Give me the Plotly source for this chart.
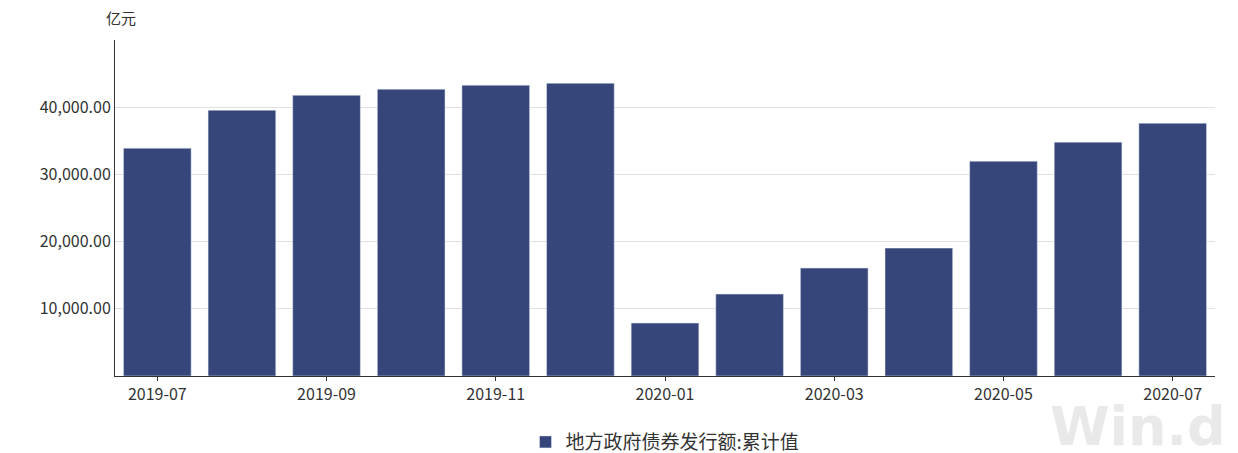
import plotly.graph_objects as go

months = ["2019-07","2019-08","2019-09","2019-10","2019-11","2019-12","2020-01","2020-02","2020-03","2020-04","2020-05","2020-06","2020-07"]
values = [33900,39550,41780,42680,43270,43570,7880,12190,16060,19030,31970,34800,37620]
tick_labels = ["2019-07","2019-09","2019-11","2020-01","2020-03","2020-05","2020-07"]
y_ticks = [10000,20000,30000,40000]

fig = go.Figure(go.Bar(x=months, y=values, name="地方政府债券发行额:累计值",
                       marker_color="#36467a", width=0.8, showlegend=True))
fig.update_layout(
    width=1238, height=453, paper_bgcolor="white", plot_bgcolor="white",
    margin=dict(l=107, r=31, t=32, b=85, autoexpand=False),
    font=dict(family="Noto Sans CJK SC", size=16, color="#333"),
    xaxis=dict(type="category", tickvals=tick_labels, ticktext=tick_labels, automargin=False,
               showline=True, linecolor="#333", ticks="outside", ticklen=4, tickcolor="#333"),
    yaxis=dict(range=[0,50000], tickvals=y_ticks, ticktext=[f"{v:,.2f}" for v in y_ticks], automargin=False,
               showline=True, linecolor="#333", gridcolor="#e0e0e0", ticks=""),
    legend=dict(orientation="h", x=0.5, xanchor="center", y=-0.14, yanchor="top",
                font=dict(size=19)),
    annotations=[
        dict(text="亿元", xref="paper", yref="paper", x=-0.01, y=1.03, xanchor="left",
             yanchor="bottom", showarrow=False, font=dict(size=15)),
        dict(text="<b>Win.d</b>", xref="paper", yref="paper", x=1.012, y=-0.25, xanchor="right",
             yanchor="bottom", showarrow=False, font=dict(size=54, color="rgba(200,200,200,0.4)", family="DejaVu Sans")),
    ],
)
fig.write_html("out.html")
